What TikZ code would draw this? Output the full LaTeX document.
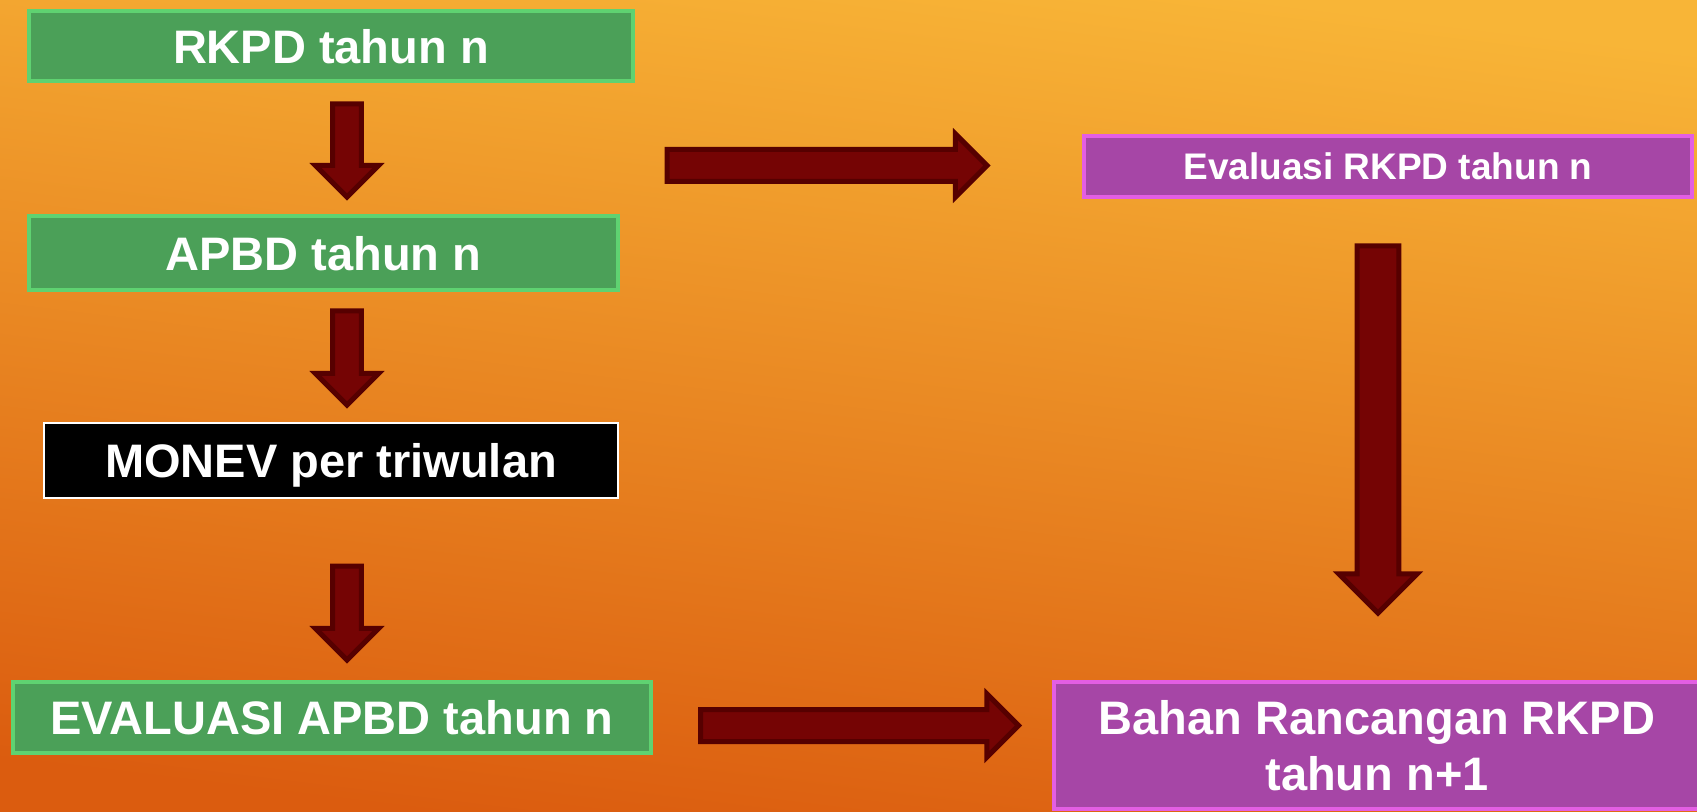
\documentclass[tikz,border=0pt]{standalone}
\usepackage{fontspec}
\setmainfont{Liberation Sans}
\usetikzlibrary{shapes.arrows}

\definecolor{bgtop}{HTML}{F8B537}
\definecolor{bgmid}{HTML}{EA8A22}
\definecolor{bgbottom}{HTML}{DB5C0F}
\definecolor{boxgreen}{HTML}{4BA058}
\definecolor{edgegreen}{HTML}{5FD271}
\definecolor{boxpurple}{HTML}{A646A6}
\definecolor{edgepurple}{HTML}{E35EE3}
\definecolor{arrowred}{HTML}{750404}
\definecolor{arrowdark}{HTML}{560000}

\begin{document}
\begin{tikzpicture}[x=0.5pt, y=-0.5pt,
    box/.style={text=white, inner sep=0pt, align=center, text depth=0pt, font=\bfseries\fontsize{23.5}{28}\selectfont},
    greenbox/.style={box, fill=boxgreen, draw=edgegreen, line width=2pt},
    purplebox/.style={box, fill=boxpurple, draw=edgepurple, line width=2pt},
    bigarrow/.style={single arrow, fill=arrowred, draw=arrowdark, line width=2.5pt, anchor=tail},
    downarrow/.style={bigarrow, shape border rotate=270, inner sep=5.9pt, single arrow head extend=8.65pt},
    sidearrow/.style={bigarrow, inner sep=6.75pt, single arrow head extend=7.85pt}]
    \shade[top color=bgtop, middle color=bgmid, bottom color=bgbottom, shading angle=-7] (0,0) rectangle (1697,812);
    \useasboundingbox (0,0) rectangle (1697,812);
    \clip (0,0) rectangle (1697,812);

    % left column
    \node[greenbox, minimum width=302pt, minimum height=35pt] (rkpd) at (331,46) {RKPD tahun n};
    \node[greenbox, minimum width=294.5pt, minimum height=37pt] (apbd) at (323.5,253) {APBD tahun n};
    \node[box, fill=black, draw=white, line width=1pt, minimum width=287pt, minimum height=37.5pt] (monev) at (331,460.5) {MONEV per triwulan};
    \node[greenbox, minimum width=319pt, minimum height=35.5pt] (evalapbd) at (332,717.5) {EVALUASI APBD tahun n};

    % right column
    \node[purplebox, minimum width=304pt, minimum height=30.5pt, font=\bfseries\fontsize{18.5}{22}\selectfont] (evalrkpd) at (1388,166.5) {Evaluasi RKPD tahun n};
    \node[purplebox, minimum width=323pt, minimum height=63.5pt] (bahan) at (1377,745.5) {Bahan Rancangan RKPD\\tahun n+1};

    % arrows
    \node[downarrow, minimum height=46.5pt] (down1) at ([shift={(16,18.5)}]rkpd.south) {};
    \node[downarrow, minimum height=47pt] (down2) at ([shift={(23.5,16.5)}]apbd.south) {};
    \node[downarrow, minimum height=47pt] (down3) at ([shift={(16,64.5)}]monev.south) {};
    \node[sidearrow, minimum height=160pt] (toeval) at ([shift={(-417.5,-1)}]evalrkpd.west) {};
    \node[sidearrow, minimum height=159pt] (tobahan) at ([shift={(45,8)}]evalapbd.east) {};
    \node[downarrow, inner sep=9.15pt, single arrow head extend=9.1pt,
        minimum height=183.5pt] (down4) at ([shift={(-10,44.5)}]evalrkpd.south) {};
\end{tikzpicture}
\end{document}
